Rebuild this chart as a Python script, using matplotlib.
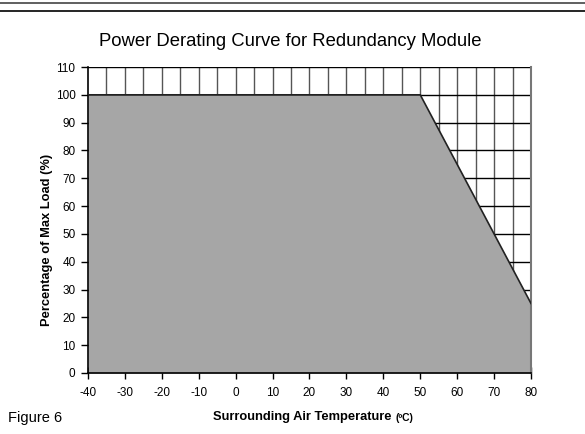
import matplotlib.pyplot as plt
import matplotlib.lines as mlines
import numpy as np

plt.rcParams['font.family'] = ['Liberation Sans', 'DejaVu Sans']
plt.rcParams['axes.unicode_minus'] = False

temp = [-40, 50, 80]
load = [100, 100, 25]
xticks = list(range(-40, 81, 10))
yticks = list(range(0, 111, 10))

fig = plt.figure(figsize=(5.85, 4.34), dpi=100)
ax = fig.add_axes([0.1504, 0.1406, 0.7573, 0.705])

# grid: vertical every 5, horizontal every 10
for x in np.arange(-35, 80, 5):
    ax.axvline(x, color='#555555', lw=1.0, zorder=1)
for y in yticks[1:]:
    ax.axhline(y, color='black', lw=1.0, zorder=1)

ax.fill_between(temp, load, 0, color='#a6a6a6', zorder=2, lw=0)
ax.plot(temp, load, color='#222222', lw=1.2, zorder=3)

ax.set_xlim(-40, 80)
ax.set_ylim(0, 110)
ax.set_xticks(xticks)
ax.set_yticks(yticks)
ax.tick_params(axis='x', direction='inout', length=8, width=1, labelsize=8.5, pad=6)
ax.tick_params(axis='y', direction='out', length=5, width=1, labelsize=8.5, pad=4)
ax.spines['top'].set_visible(False)
ax.spines['right'].set_color('#777777')
ax.spines['right'].set_linewidth(1.5)
ax.spines['left'].set_linewidth(1.2)
ax.spines['bottom'].set_linewidth(1.2)

xl = ax.set_xlabel('Surrounding Air Temperature ', fontsize=9.3, fontweight='bold')
ax.xaxis.set_label_coords(0.488, -0.125)
ax.annotate('(ºC)', xy=(1, 0), xycoords=xl, ha='left', va='bottom',
            fontsize=7.5, fontweight='bold')
ax.set_ylabel('Percentage of Max Load (%)', fontsize=9.3, fontweight='bold')
ax.yaxis.set_label_coords(-0.078, 0.435)
fig.text(0.496, 0.905, 'Power Derating Curve for Redundancy Module', ha='center', va='center', fontsize=13.3)
fig.text(0.014, 0.038, 'Figure 6', ha='left', va='center', fontsize=10.5)

# page rules at top
fig.add_artist(mlines.Line2D([0, 1], [0.993, 0.993], color='#444444', lw=1.2))
fig.add_artist(mlines.Line2D([0, 1], [0.975, 0.975], color='black', lw=1.2))

fig.savefig('out.png', dpi=100)
